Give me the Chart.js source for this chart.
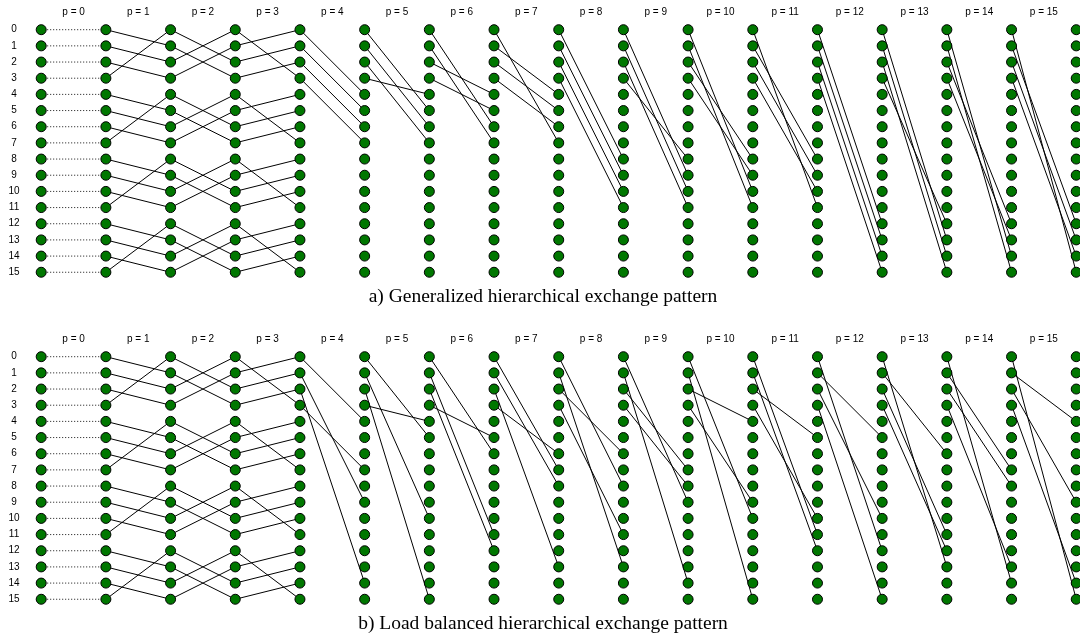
<!DOCTYPE html>
<html>
<head>
<meta charset="utf-8">
<script src="https://cdn.jsdelivr.net/npm/chart.js@4.4.1/dist/chart.umd.min.js"></script>
<style>
  html, body { margin: 0; padding: 0; background: #ffffff; }
  canvas { display: block; }
</style>
</head>
<body>
<canvas id="exchange" width="1080" height="640"></canvas>
<script>
// Process ranks (one row of nodes per rank)
const ranks = ['0','1','2','3','4','5','6','7','8','9','10','11','12','13','14','15'];

// Stage titles shown between node columns
const stageLabels = ['p = 0','p = 1','p = 2','p = 3','p = 4','p = 5','p = 6','p = 7',
                     'p = 8','p = 9','p = 10','p = 11','p = 12','p = 13','p = 14','p = 15'];

const panelCaptions = ['a) Generalized hierarchical exchange pattern',
                       'b) Load balanced hierarchical exchange pattern'];

// Stages 1-3: every rank exchanges inside its group of four (destination per rank)
const groupStage1 = [1,2,3,0, 5,6,7,4, 9,10,11,8, 13,14,15,12];
const groupStage2 = [2,3,0,1, 6,7,4,5, 10,11,8,9, 14,15,12,13];
const groupStage3 = [3,0,1,2, 7,4,5,6, 11,8,9,10, 15,12,13,14];

// Stages 4-15: destinations of ranks 0,1,2,3 (generalized pattern)
const generalizedTargets = [
  [4,5,6,7],   [5,6,7,4],   [6,7,4,5],   [7,4,5,6],
  [8,9,10,11], [9,10,11,8], [10,11,8,9], [11,8,9,10],
  [12,13,14,15], [13,14,15,12], [14,15,12,13], [15,12,13,14]
];

// Stages 4-15: destinations of ranks 0,1,2,3 (load balanced pattern)
const balancedTargets = [
  [4,9,14,7],  [5,10,15,4], [6,11,12,5], [7,8,13,6],
  [8,13,6,11], [9,14,7,8],  [10,15,4,9], [11,12,5,10],
  [12,5,10,15], [13,6,11,12], [14,7,8,13], [15,4,9,14]
];

// ---- layout (scale units: one column step on x, one rank step on y) ----
const COL_PX = 64.69, COL0_PX = 41.2;
const ROW_PX = 16.17, ROW0_PX = 29.7;
const PANEL_SHIFT = 327 / ROW_PX;
const panelShift = [0, PANEL_SHIFT];
const columnCount = stageLabels.length + 1;

const NODE_FILL = '#007700';
const groupStages = [groupStage1, groupStage2, groupStage3];
const targetSets = [generalizedTargets, balancedTargets];

const datasets = [];

// nodes
const nodes = [];
panelShift.forEach(off => {
  for (let c = 0; c < columnCount; c++) {
    ranks.forEach((_, r) => nodes.push({ x: c, y: r + off }));
  }
});
datasets.push({
  data: nodes,
  order: 0,
  showLine: false,
  pointRadius: 5,
  pointBackgroundColor: NODE_FILL,
  pointBorderColor: '#000000',
  pointBorderWidth: 1
});

function edge(x0, y0, x1, y1, dashed) {
  datasets.push({
    data: [{ x: x0, y: y0 }, { x: x1, y: y1 }],
    order: 1,
    showLine: true,
    pointRadius: 0,
    borderColor: dashed ? '#111111' : '#000000',
    borderWidth: 1,
    borderDash: dashed ? [1, 2] : []
  });
}

panelShift.forEach((off, panel) => {
  // stage 0: each rank keeps its own data
  ranks.forEach((_, r) => edge(0, r + off, 1, r + off, true));
  // stages 1-3
  groupStages.forEach((dest, k) => {
    const s = k + 1;
    dest.forEach((d, r) => edge(s, r + off, s + 1, d + off, false));
  });
  // stages 4-15
  targetSets[panel].forEach((dest, k) => {
    const s = k + 4;
    dest.forEach((d, r) => edge(s, r + off, s + 1, d + off, false));
  });
});

// texts: rank numbers, stage titles, captions
const labelPlugin = {
  id: 'exchangeLabels',
  afterDraw(chart) {
    const { ctx, scales: { x, y } } = chart;
    ctx.save();
    ctx.fillStyle = '#000000';
    ctx.textBaseline = 'middle';
    panelShift.forEach((off, panel) => {
      ctx.font = '10px "Liberation Sans", Arial, sans-serif';
      ctx.textAlign = 'center';
      ranks.forEach((lab, r) => ctx.fillText(lab, 14, y.getPixelForValue(r + off)));
      stageLabels.forEach((lab, s) => {
        ctx.fillText(lab, x.getPixelForValue(s + 0.5), y.getPixelForValue(off - 1.1));
      });
      ctx.font = '19.5px "Liberation Serif", "Times New Roman", serif';
      ctx.fillText(panelCaptions[panel], 543, y.getPixelForValue(off + 16.55));
    });
    ctx.restore();
  }
};

new Chart(document.getElementById('exchange'), {
  type: 'scatter',
  data: { datasets },
  options: {
    responsive: false,
    animation: false,
    events: [],
    layout: { padding: 0, autoPadding: false },
    plugins: { legend: { display: false }, tooltip: { enabled: false } },
    scales: {
      x: {
        type: 'linear', display: false,
        min: -COL0_PX / COL_PX,
        max: -COL0_PX / COL_PX + 1080 / COL_PX
      },
      y: {
        type: 'linear', display: false, reverse: true,
        min: -ROW0_PX / ROW_PX,
        max: -ROW0_PX / ROW_PX + 640 / ROW_PX
      }
    }
  },
  plugins: [labelPlugin]
});
</script>
</body>
</html>
